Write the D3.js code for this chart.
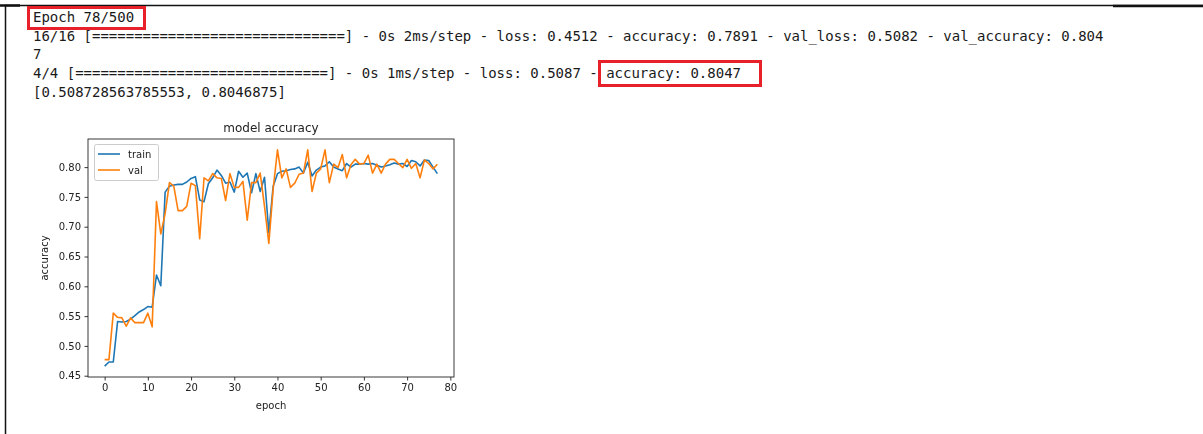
<!DOCTYPE html>
<html>
<head>
<meta charset="utf-8">
<script src="https://cdn.jsdelivr.net/npm/d3@7"></script>
<style>
  html, body { margin: 0; padding: 0; background: #fff; }
  svg { display: block; }
</style>
</head>
<body>
<svg id="page" width="1203" height="434"></svg>
<script>
// Training log lines printed above the plot
const logLines = [
  "Epoch 78/500",
  "16/16 [==============================] - 0s 2ms/step - loss: 0.4512 - accuracy: 0.7891 - val_loss: 0.5082 - val_accuracy: 0.804",
  "7",
  "4/4 [==============================] - 0s 1ms/step - loss: 0.5087 - accuracy: 0.8047",
  "[0.508728563785553, 0.8046875]"
];

// Per-epoch accuracy history
const epochs = d3.range(0, 78);
const trainAcc = [
  0.466, 0.473, 0.473, 0.541, 0.540, 0.541, 0.545, 0.551, 0.557, 0.561,
  0.566, 0.565, 0.619, 0.601, 0.758, 0.768, 0.770, 0.771, 0.771, 0.775,
  0.781, 0.784, 0.745, 0.742, 0.772, 0.782, 0.795, 0.786, 0.773, 0.775,
  0.758, 0.793, 0.783, 0.790, 0.757, 0.789, 0.759, 0.783, 0.690, 0.768,
  0.789, 0.793, 0.794, 0.796, 0.797, 0.800, 0.790, 0.808, 0.785, 0.795,
  0.800, 0.802, 0.809, 0.800, 0.797, 0.794, 0.806, 0.800, 0.805, 0.805,
  0.806, 0.805, 0.806, 0.803, 0.800, 0.802, 0.804, 0.807, 0.805, 0.806,
  0.801, 0.811, 0.809, 0.802, 0.812, 0.811, 0.800, 0.7891
];
const valAcc = [
  0.477, 0.477, 0.555, 0.548, 0.547, 0.533, 0.547, 0.539, 0.539, 0.539,
  0.555, 0.532, 0.742, 0.688, 0.722, 0.774, 0.768, 0.727, 0.727, 0.734,
  0.773, 0.769, 0.680, 0.782, 0.777, 0.789, 0.782, 0.781, 0.744, 0.789,
  0.766, 0.766, 0.776, 0.711, 0.774, 0.774, 0.790, 0.734, 0.672, 0.763,
  0.829, 0.782, 0.797, 0.766, 0.773, 0.788, 0.790, 0.829, 0.759, 0.790,
  0.797, 0.829, 0.774, 0.805, 0.799, 0.821, 0.782, 0.804, 0.813, 0.805,
  0.806, 0.820, 0.790, 0.805, 0.790, 0.805, 0.813, 0.813, 0.806, 0.799,
  0.813, 0.798, 0.806, 0.782, 0.812, 0.806, 0.797, 0.8047
];
const seriesNames = ["train", "val"];
const xTicks = [0, 10, 20, 30, 40, 50, 60, 70, 80];
const yTicks = [0.45, 0.50, 0.55, 0.60, 0.65, 0.70, 0.75, 0.80];

const svg = d3.select("#page");

// soft rendering for the embedded figure
const defs = svg.append("defs");
defs.append("filter").attr("id", "soft")
  .append("feGaussianBlur").attr("stdDeviation", 0.3);

// ---- notebook cell frame ----
svg.append("line").attr("x1", 5).attr("x2", 1203).attr("y1", 5.5).attr("y2", 5.5)
  .attr("stroke", "#111").attr("stroke-width", 1.5);
svg.append("line").attr("x1", 0).attr("x2", 20).attr("y1", 5.5).attr("y2", 5.5)
  .attr("stroke", "#111").attr("stroke-width", 2.5);
svg.append("line").attr("x1", 1113).attr("x2", 1203).attr("y1", 6).attr("y2", 6)
  .attr("stroke", "#111").attr("stroke-width", 2.5);
svg.append("line").attr("x1", 5.5).attr("x2", 5.5).attr("y1", 5).attr("y2", 434)
  .attr("stroke", "#111").attr("stroke-width", 1.5);

// ---- console output ----
const mono = "'DejaVu Sans Mono', 'Liberation Mono', monospace";
svg.append("g").selectAll("text").data(logLines).join("text")
  .attr("x", 33)
  .attr("y", (d, i) => 22 + i * 18.7)
  .attr("font-family", mono)
  .attr("font-size", 14)
  .attr("fill", "#1a1a1a")
  .attr("xml:space", "preserve")
  .text(d => d);

// highlight boxes
const hl = "#e8202a";
svg.append("rect").attr("x", 28.5).attr("y", 7.5).attr("width", 116).attr("height", 21)
  .attr("fill", "none").attr("stroke", hl).attr("stroke-width", 3);
svg.append("rect").attr("x", 599.5).attr("y", 61.5).attr("width", 161).attr("height", 24)
  .attr("fill", "none").attr("stroke", hl).attr("stroke-width", 3);

// ---- plot ----
const frame = { left: 88, right: 454, top: 139, bottom: 377 };
const allVals = trainAcc.concat(valAcc);
const yMin = d3.min(allVals), yMax = d3.max(allVals);
const yPad = (yMax - yMin) * 0.05;
const xPad = (d3.max(epochs) - d3.min(epochs)) * 0.05;

const x = d3.scaleLinear()
  .domain([d3.min(epochs) - xPad, d3.max(epochs) + xPad])
  .range([frame.left, frame.right]);
const y = d3.scaleLinear()
  .domain([yMin - yPad, yMax + yPad])
  .range([frame.bottom, frame.top]);

const sans = "'DejaVu Sans', sans-serif";
const plot = svg.append("g").attr("filter", "url(#soft)");

const colors = { train: "#1f77b4", val: "#ff7f0e" };
const line = d3.line().x((d, i) => x(epochs[i])).y(d => y(d));

defs.append("clipPath").attr("id", "plotclip")
  .append("rect").attr("x", frame.left).attr("y", frame.top)
  .attr("width", frame.right - frame.left).attr("height", frame.bottom - frame.top);

plot.append("path").datum(trainAcc).attr("d", line)
  .attr("fill", "none").attr("stroke", colors.train).attr("stroke-width", 1.6)
  .attr("stroke-linejoin", "round").attr("clip-path", "url(#plotclip)");
plot.append("path").datum(valAcc).attr("d", line)
  .attr("fill", "none").attr("stroke", colors.val).attr("stroke-width", 1.6)
  .attr("stroke-linejoin", "round").attr("clip-path", "url(#plotclip)");

// axes
const xAxis = d3.axisBottom(x).tickValues(xTicks).tickSize(3.5).tickPadding(3.5)
  .tickFormat(d3.format("d"));
const yAxis = d3.axisLeft(y).tickValues(yTicks).tickSize(3.5).tickPadding(3.5)
  .tickFormat(d3.format(".2f"));

const gx = plot.append("g").attr("transform", `translate(0,${frame.bottom})`).call(xAxis);
const gy = plot.append("g").attr("transform", `translate(${frame.left},0)`).call(yAxis);
[gx, gy].forEach(g => {
  g.select(".domain").remove();
  g.selectAll(".tick line").attr("stroke", "#222").attr("stroke-width", 0.9);
  g.selectAll(".tick text").attr("font-family", sans).attr("font-size", 10).attr("fill", "#222");
});

// spines
plot.append("rect")
  .attr("x", frame.left).attr("y", frame.top)
  .attr("width", frame.right - frame.left).attr("height", frame.bottom - frame.top)
  .attr("fill", "none").attr("stroke", "#222").attr("stroke-width", 0.9);

// titles
plot.append("text").attr("x", (frame.left + frame.right) / 2).attr("y", 132)
  .attr("text-anchor", "middle").attr("font-family", sans).attr("font-size", 12)
  .attr("fill", "#222").text("model accuracy");
plot.append("text").attr("x", (frame.left + frame.right) / 2).attr("y", 409)
  .attr("text-anchor", "middle").attr("font-family", sans).attr("font-size", 10)
  .attr("fill", "#222").text("epoch");
plot.append("text")
  .attr("transform", `translate(48,${(frame.top + frame.bottom) / 2}) rotate(-90)`)
  .attr("text-anchor", "middle").attr("font-family", sans).attr("font-size", 10)
  .attr("fill", "#222").text("accuracy");

// legend
const lg = plot.append("g").attr("transform", "translate(94,144)");
lg.append("rect").attr("x", 0.5).attr("y", 0.5).attr("width", 64).attr("height", 36)
  .attr("rx", 2).attr("fill", "#fff").attr("fill-opacity", 0.8)
  .attr("stroke", "#ccc").attr("stroke-width", 1);
seriesNames.forEach((name, i) => {
  const cy = 10 + i * 16;
  lg.append("line").attr("x1", 4).attr("x2", 26).attr("y1", cy).attr("y2", cy)
    .attr("stroke", colors[name]).attr("stroke-width", 1.6);
  lg.append("text").attr("x", 34).attr("y", cy + 3.6)
    .attr("font-family", sans).attr("font-size", 10).attr("fill", "#222").text(name);
});
</script>
</body>
</html>
